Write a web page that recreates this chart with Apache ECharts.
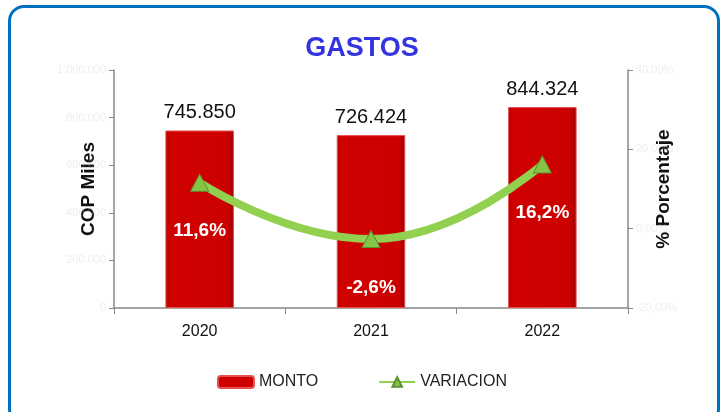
<!DOCTYPE html>
<html>
<head>
<meta charset="utf-8">
<script src="https://cdn.jsdelivr.net/npm/echarts@6/dist/echarts.min.js"></script>
<style>
html,body{margin:0;padding:0;background:#fff;width:724px;height:412px;overflow:hidden;}
#frame{position:absolute;left:8px;top:5px;width:712px;height:420px;border:3px solid #0070c0;border-radius:16px;box-sizing:border-box;}
#c{position:absolute;left:0;top:0;width:724px;height:412px;}
</style>
</head>
<body>
<div id="frame"></div>
<div id="c"></div>
<script>
const categories = ['2020', '2021', '2022'];
const monto = [745850, 726424, 844324];
const variacion = [11.6, -2.6, 16.2];
const leftTicks = [0, 1000000, 200000];
const rightTicks = [-20, 40, 20];

function fmtMiles(v){ return String(Math.round(v)).replace(/\B(?=(\d{3})+(?!\d))/g, '.'); }
function fmtPct(v, d){ return v.toFixed(d).replace('.', ',') + '%'; }

const chart = echarts.init(document.getElementById('c'));
chart.setOption({
  animation: false,
  title: {
    text: 'GASTOS', left: 'center', top: 30,
    textStyle: { fontFamily: 'Liberation Sans', fontWeight: 'bold', fontSize: 27, color: '#3333e0' }
  },
  grid: { left: 114, right: 96, top: 70, bottom: 104 },
  legend: {
    bottom: 17, left: 'center', itemGap: 60, itemWidth: 36, itemHeight: 12,
    textStyle: { fontFamily: 'Liberation Sans', fontSize: 16, color: '#222' },
    data: ['MONTO', 'VARIACION']
  },
  xAxis: {
    type: 'category', data: categories,
    axisLine: { lineStyle: { color: '#888', width: 1.5 } },
    axisTick: { show: true, length: 6, lineStyle: { color: '#888' } },
    axisLabel: { fontFamily: 'Liberation Sans', fontSize: 16, color: '#111', margin: 16 }
  },
  yAxis: [{
    type: 'value', min: leftTicks[0], max: leftTicks[1], interval: leftTicks[2],
    name: 'COP Miles', nameLocation: 'middle', nameRotate: 90, nameGap: 16, nameMoveOverlap: false,
    nameTextStyle: { fontFamily: 'Liberation Sans', fontWeight: 'bold', fontSize: 19, color: '#111' },
    axisLine: { show: true, lineStyle: { color: '#888', width: 1.5 } },
    axisTick: { show: true, length: 5, lineStyle: { color: '#888' } },
    splitLine: { show: false },
    axisLabel: { color: 'rgba(200,200,200,0.3)', fontSize: 11, formatter: v => fmtMiles(v) }
  }, {
    type: 'value', min: rightTicks[0], max: rightTicks[1], interval: rightTicks[2],
    name: '% Porcentaje', nameLocation: 'middle', nameRotate: 90, nameGap: 26, nameMoveOverlap: false,
    nameTextStyle: { fontFamily: 'Liberation Sans', fontWeight: 'bold', fontSize: 19, color: '#111' },
    axisLine: { show: true, lineStyle: { color: '#888', width: 1.5 } },
    axisTick: { show: true, length: 5, lineStyle: { color: '#888' } },
    splitLine: { show: false },
    axisLabel: { color: 'rgba(200,200,200,0.3)', fontSize: 11, formatter: v => fmtPct(v, 2) }
  }],
  series: [{
    name: 'MONTO', type: 'bar', data: monto, barWidth: '40%',
    itemStyle: {
      color: new echarts.graphic.LinearGradient(0, 0, 1, 0, [
        { offset: 0, color: '#b80000' }, { offset: 0.08, color: '#d00000' },
        { offset: 0.9, color: '#cc0000' }, { offset: 1, color: '#a00000' }
      ]),
      borderColor: '#e85050', borderWidth: 1
    },
    label: { show: true, position: 'top', distance: 8, formatter: p => fmtMiles(p.value),
      fontFamily: 'Liberation Sans', fontSize: 20, color: '#111' }
  }, {
    name: 'VARIACION', type: 'line', yAxisIndex: 1, data: variacion, smooth: true,
    lineStyle: { color: '#92d050', width: 8 },
    symbol: 'triangle', symbolSize: [18, 17],
    itemStyle: { color: '#86c448', borderColor: '#5f8f30', borderWidth: 1 },
    label: { show: true, position: 'bottom', distance: 30, formatter: p => fmtPct(p.value, 1),
      fontFamily: 'Liberation Sans', fontWeight: 'bold', fontSize: 19, color: '#fff' },
    z: 3
  }]
});
</script>
</body>
</html>
